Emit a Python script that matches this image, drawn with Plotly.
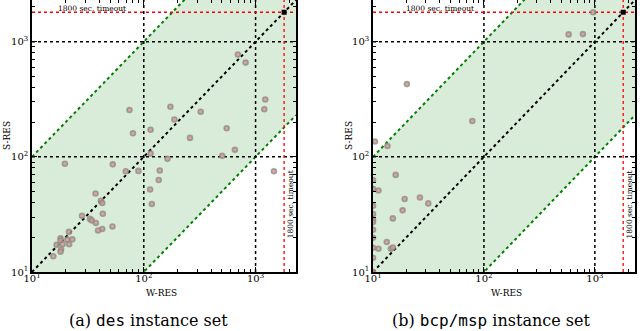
import numpy as np
import plotly.graph_objects as go

# W-RES / S-RES runtimes (sec.)
des_w = [695, 815, 1222, 1197, 74.5, 173, 323, 188, 80, 115, 551, 259, 653, 503, 115, 163,
         19.7, 52.8, 69, 89.5, 139, 136, 1460, 114, 118, 37, 41.3, 42.5, 43, 28, 33, 34.3,
         37.3, 52.5, 42.5, 39, 21.4, 18, 18, 20.7, 23, 16.6, 18.8, 21.5, 18.2, 18, 15.5]
des_s = [773, 658, 315, 259, 255, 272, 246, 211, 160, 172, 177, 146, 115, 102, 107, 96,
         87, 86, 75, 75.5, 76, 63, 75, 52, 39, 48, 41.6, 39.7, 32, 30.8, 28.9, 28,
         26.6, 24.8, 23.6, 22.9, 22.3, 19.6, 18.8, 19.1, 19.2, 17.2, 17.4, 17.4, 15.7, 15.0, 13.7]

bcp_w = [966, 580, 780, 20.2, 78.6, 10.4, 13.5, 16, 11.2, 19.3, 26.5, 31.5, 18.5, 15.1,
         13.3, 11.2, 14.5, 15.1, 10, 10, 10, 10, 10, 10, 10, 10, 10, 10, 10]
bcp_s = [1800, 1156, 1163, 428, 205, 136, 124, 69.7, 51, 43, 44.4, 39.4, 34.3, 29.2,
         18.2, 15.9, 15.9, 16.3, 63, 52.7, 37.6, 31.8, 28.4, 27.2, 23.3, 19.8, 16.2, 13.3, 10]

# instances where both solvers hit the time limit
timeout_w = [1800]
timeout_s = [1800]

TIMEOUT = 1800
LIM = [10, 2300]
GRID = [100, 1000]
BAND = 10  # speed-up factor of the shaded band

serif = "DejaVu Serif"
mono = "DejaVu Sans Mono"

fig = go.Figure()

panels = [(des_w, des_s, "x", "y"), (bcp_w, bcp_s, "x2", "y2")]

for w, s, xa, ya in panels:
    lx = np.array(LIM, dtype=float)
    # shaded band between y = x/10 and y = 10x
    fig.add_trace(go.Scatter(x = lx, y = lx / BAND, mode = "lines",
                             line = dict(color = "green", width = 2, dash = "dot"),
                             xaxis = xa, yaxis = ya, showlegend = False))
    fig.add_trace(go.Scatter(x = lx, y = lx * BAND, mode = "lines", fill = "tonexty",
                             fillcolor = "rgba(0,128,0,0.15)",
                             line = dict(color = "green", width = 2, dash = "dot"),
                             xaxis = xa, yaxis = ya, showlegend = False))
    # grid lines
    for g in GRID:
        fig.add_trace(go.Scatter(x = [g, g], y = LIM, mode = "lines",
                                 line = dict(color = "black", width = 1.5, dash = "dot"),
                                 xaxis = xa, yaxis = ya, showlegend = False))
        fig.add_trace(go.Scatter(x = LIM, y = [g, g], mode = "lines",
                                 line = dict(color = "black", width = 1.5, dash = "dot"),
                                 xaxis = xa, yaxis = ya, showlegend = False))
    # timeout lines
    fig.add_trace(go.Scatter(x = [TIMEOUT, TIMEOUT], y = LIM, mode = "lines",
                             line = dict(color = "red", width = 1.3, dash = "dot"),
                             xaxis = xa, yaxis = ya, showlegend = False))
    fig.add_trace(go.Scatter(x = LIM, y = [TIMEOUT, TIMEOUT], mode = "lines",
                             line = dict(color = "red", width = 1.3, dash = "dot"),
                             xaxis = xa, yaxis = ya, showlegend = False))
    # diagonal
    fig.add_trace(go.Scatter(x = lx, y = lx, mode = "lines",
                             line = dict(color = "black", width = 2, dash = "dot"),
                             xaxis = xa, yaxis = ya, showlegend = False))
    # instances
    fig.add_trace(go.Scatter(x = w, y = s, mode = "markers",
                             marker = dict(size = 5, color = "rgba(215,150,145,0.85)",
                                           line = dict(color = "rgba(130,135,130,0.7)", width = 1.6)),
                             xaxis = xa, yaxis = ya, showlegend = False))
    fig.add_trace(go.Scatter(x = timeout_w, y = timeout_s, mode = "markers",
                             marker = dict(size = 5, color = "black", symbol = "square"),
                             xaxis = xa, yaxis = ya, showlegend = False))

decades = [10, 100, 1000]
decade_text = ["10<sup>1</sup>", "10<sup>2</sup>", "10<sup>3</sup>"]
minor_vals = [m * d for d in decades for m in range(2, 10)]

axis_style = dict(type = "log", range = [1, np.log10(LIM[1])], automargin = False,
                  tickvals = decades, ticktext = decade_text,
                  ticks = "inside", ticklen = 5, tickcolor = "black",
                  minor = dict(tickvals = minor_vals, ticks = "inside", ticklen = 3, tickcolor = "black"),
                  showline = True, linecolor = "black", linewidth = 1.5, mirror = "allticks",
                  showgrid = False, zeroline = False,
                  tickfont = dict(family = serif, size = 10, color = "black"))

fig.update_layout(
    width = 640, height = 331,
    margin = dict(l = 0, r = 0, t = 0, b = 0),
    plot_bgcolor = "white", paper_bgcolor = "white",
    xaxis = dict(axis_style, domain = [32 / 640, 296 / 640], anchor = "y", ticklabelstandoff = -4),
    yaxis = dict(axis_style, domain = [1 - 272 / 331, 1], anchor = "x"),
    xaxis2 = dict(axis_style, domain = [373 / 640, 635 / 640], anchor = "y2", ticklabelstandoff = -4),
    yaxis2 = dict(axis_style, domain = [1 - 272 / 331, 1], anchor = "x2"),
)

ann = []
panel_text = [("x", "y", 161, "(a) <span style='font-family:%s'>des</span> instance set" % mono, 148, 7, 0.227),
              ("x2", "y2", 506, "(b) <span style='font-family:%s'>bcp/msp</span> instance set" % mono, 491, 349, 0.255)]
for xa, ya, cx, lab, capx, sy, tx in panel_text:
    ann.append(dict(text = "W-RES", x = cx / 640, y = 1 - 293 / 331, xref = "paper", yref = "paper",
                    xanchor = "center", yanchor = "middle",
                    showarrow = False, font = dict(family = serif, size = 9, color = "black")))
    ann.append(dict(text = "S-RES", x = sy / 640, y = 1 - 136 / 331, xref = "paper", yref = "paper",
                    xanchor = "center", yanchor = "middle",
                    textangle = -90, showarrow = False, font = dict(family = serif, size = 9, color = "black")))
    ann.append(dict(text = lab, x = capx / 640, y = 1 - 320 / 331, xref = "paper", yref = "paper",
                    xanchor = "center", yanchor = "middle",
                    showarrow = False, font = dict(family = serif, size = 16, color = "black")))
    ann.append(dict(text = "1800 sec. timeout", x = tx, y = np.log10(TIMEOUT),
                    xref = xa + " domain", yref = ya, xanchor = "center", yanchor = "bottom", yshift = -3,
                    showarrow = False, font = dict(family = serif, size = 7.5, color = "black")))
    ann.append(dict(text = "1800 sec. timeout", x = np.log10(TIMEOUT), y = 1.584,
                    xref = xa, yref = ya, xanchor = "left", yanchor = "middle", textangle = -90,
                    showarrow = False, font = dict(family = serif, size = 7.5, color = "black")))

fig.update_layout(annotations = ann)

fig.write_html("out.html", config = dict(displayModeBar = False),
               post_script = "document.body.style.margin = '0';")
